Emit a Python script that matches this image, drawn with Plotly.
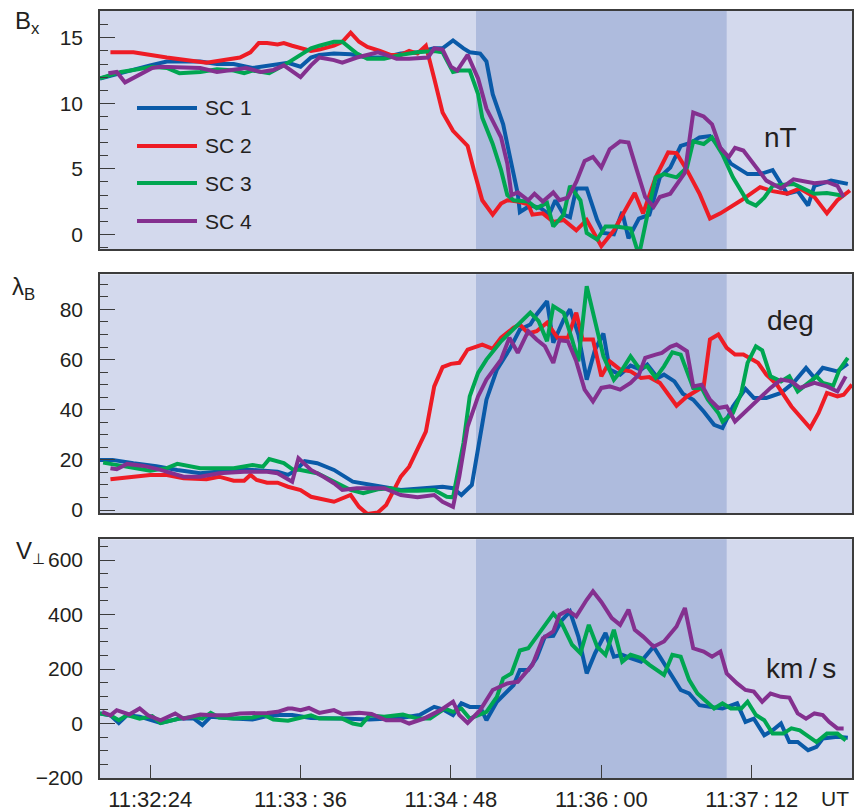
import plotly.graph_objects as go

# time axis: seconds after 11:32:00 UT
tick_secs = [24, 96, 168, 240, 312]
tick_text = ["11:32:24", "11:33\u2009:\u200936", "11:34\u2009:\u200948", "11:36\u2009:\u200900", "11:37\u2009:\u200912"]
series_names = ["SC 1", "SC 2", "SC 3", "SC 4"]
series_colors = ["#0a5aa8", "#ee1c25", "#00a651", "#84308f"]

# ---------------- Bx (nT) ----------------
bx1_t = [0, 16, 24, 32, 48, 56, 64, 73, 83, 90, 96, 101, 105, 112, 120, 128, 136, 144, 152, 160, 164, 169, 174, 177, 182, 185, 188, 193, 196, 200, 201, 206, 211, 215, 218, 222, 225, 228, 233, 238, 241, 246, 250, 253, 258, 263, 268, 273, 278, 283, 287, 292, 297, 302, 310, 316, 322, 329, 334, 339, 342, 350, 358]
bx1_v = [11.9, 12.6, 12.9, 13.2, 13.2, 13.0, 13.0, 12.7, 12.9, 13.1, 12.8, 13.5, 13.7, 13.8, 13.75, 13.5, 13.5, 13.8, 13.9, 14.2, 14.2, 14.8, 14.2, 13.9, 13.8, 13.2, 10.7, 8.4, 6.1, 3.1, 1.7, 2.2, 2.0, 1.5, 2.6, 1.5, 1.3, 3.5, 3.5, 1.1, 0.1, 0.0, 1.7, -0.3, 1.2, 1.5, 4.35, 5.1, 6.75, 7.0, 7.4, 7.5, 6.6, 5.4, 4.6, 4.6, 4.9, 3.1, 3.3, 2.2, 3.7, 4.1, 3.85]
bx2_t = [5, 16, 32, 48, 51, 67, 72, 76, 80, 85, 88, 92, 96, 101, 105, 112, 116, 120, 124, 128, 134, 139, 144, 148, 152, 156, 160, 164, 169, 176, 179, 183, 188, 192, 195, 200, 205, 207, 212, 217, 222, 228, 233, 240, 246, 256, 260, 266, 272, 276, 281, 287, 292, 297, 307, 316, 322, 329, 335, 342, 348, 353, 359]
bx2_v = [13.9, 13.9, 13.5, 13.2, 13.1, 13.5, 13.9, 14.6, 14.6, 14.5, 14.6, 14.4, 14.2, 14.0, 14.1, 14.4, 14.7, 15.4, 14.7, 14.3, 14.0, 13.7, 13.7, 14.0, 13.8, 14.4, 11.9, 9.3, 7.9, 6.75, 4.9, 2.6, 1.5, 2.35, 2.6, 2.5, 2.3, 1.5, 1.6, 0.95, 1.1, 0.3, 1.1, -0.9, 0.3, 3.15, 1.6, 4.35, 6.25, 6.2, 4.9, 3.1, 1.2, 1.6, 2.6, 3.6, 3.3, 3.1, 3.5, 2.85, 1.6, 2.6, 3.35]
bx3_t = [0, 10, 16, 25, 32, 38, 48, 56, 64, 69, 73, 81, 88, 92, 96, 101, 105, 112, 116, 123, 128, 136, 144, 152, 160, 164, 169, 172, 177, 181, 183, 188, 192, 195, 198, 205, 209, 214, 217, 222, 225, 230, 233, 238, 242, 247, 254, 258, 263, 266, 270, 276, 281, 284, 289, 293, 298, 303, 310, 314, 318, 322, 332, 342, 348, 356]
bx3_v = [11.9, 12.4, 12.55, 12.8, 12.7, 12.3, 12.4, 12.6, 12.5, 12.3, 12.5, 12.3, 12.9, 13.3, 13.7, 14.2, 14.4, 14.7, 14.7, 13.8, 13.4, 13.4, 13.7, 13.9, 14.0, 13.9, 12.4, 12.5, 12.5, 10.7, 8.9, 6.9, 4.9, 3.0, 2.6, 2.5, 2.0, 2.4, 0.6, 1.5, 3.7, 2.6, 0.1, -0.4, 0.6, 0.6, 0.45, -1.6, 2.2, 4.35, 4.6, 4.35, 5.1, 7.1, 6.9, 7.4, 6.1, 4.35, 2.5, 2.2, 2.8, 3.7, 3.85, 3.1, 3.15, 2.95]
bx4_t = [4, 8, 12, 18, 25, 29, 40, 48, 56, 64, 70, 77, 83, 88, 96, 101, 105, 112, 116, 123, 128, 133, 137, 142, 148, 157, 160, 164, 168, 171, 176, 181, 185, 192, 195, 197, 200, 205, 208, 212, 217, 220, 224, 228, 232, 236, 240, 244, 249, 253, 257, 261, 265, 268, 273, 280, 284, 289, 293, 297, 301, 304, 308, 313, 319, 326, 332, 342, 348, 353, 356]
bx4_v = [12.3, 12.4, 11.6, 12.1, 12.7, 12.8, 12.75, 12.7, 12.4, 12.55, 12.7, 12.4, 12.55, 12.9, 12.0, 12.9, 13.5, 13.3, 13.1, 13.5, 13.7, 13.9, 13.7, 13.4, 13.4, 13.5, 14.2, 14.1, 12.8, 12.5, 13.7, 11.9, 9.6, 7.4, 5.4, 3.0, 3.2, 2.6, 3.1, 2.5, 3.2, 2.6, 2.8, 4.0, 5.6, 5.9, 5.1, 6.5, 7.1, 7.0, 4.9, 2.85, 2.1, 2.85, 3.1, 4.7, 9.3, 9.0, 8.4, 6.6, 5.9, 6.6, 6.4, 5.4, 4.1, 3.5, 4.2, 3.9, 4.0, 3.7, 2.85]

# ---------------- lambda_B (deg) ----------------
lb1_t = [0, 6, 16, 27, 37, 48, 56, 64, 73, 80, 85, 90, 94, 98, 104, 112, 121, 133, 144, 155, 164, 169, 173, 178, 182, 185, 190, 196, 201, 206, 209, 214, 217, 222, 225, 229, 233, 237, 241, 244, 249, 254, 259, 262, 267, 270, 275, 279, 284, 289, 294, 298, 303, 309, 313, 319, 326, 332, 338, 342, 346, 353, 358]
lb1_v = [20, 20, 18.7, 17.5, 16, 14.7, 15.3, 16, 16, 15.7, 15.3, 14, 16, 19.5, 18.7, 16, 11.3, 9.6, 8, 8.7, 9.3, 8.7, 6, 10, 29.3, 44, 56, 64, 72, 74, 78, 83.3, 66.7, 76, 80, 70, 52, 64, 70.4, 56, 54, 57.6, 56, 58, 52.7, 54, 51.3, 46.4, 44, 39.3, 34, 32.7, 41.3, 48.3, 44.7, 44.7, 46.7, 50.7, 56.7, 52.7, 56.7, 55.3, 58.4]
lb2_t = [5, 16, 24, 32, 40, 51, 57, 64, 69, 72, 75, 80, 85, 90, 96, 101, 107, 112, 120, 124, 128, 133, 137, 144, 148, 156, 160, 164, 168, 172, 176, 183, 188, 192, 198, 201, 205, 209, 214, 219, 224, 228, 231, 236, 240, 244, 249, 254, 259, 263, 268, 273, 276, 281, 286, 289, 292, 296, 300, 304, 308, 315, 319, 324, 331, 335, 340, 344, 348, 353, 356, 360]
lb2_v = [12.3, 13.3, 14, 14, 12.7, 12.3, 13.3, 11.7, 11.7, 14, 12, 10.9, 10.9, 9.3, 8, 5.3, 4.3, 3.3, 6, 1.3, -1.6, -1.0, 2, 13.3, 17.3, 31.3, 49.3, 57, 58.3, 58.7, 64, 66, 64.3, 68.7, 72.7, 74, 70.4, 71.3, 74.7, 68.7, 68.7, 78.7, 68, 68, 53.3, 59.3, 56, 55.3, 52.7, 53, 50.7, 44.7, 41.6, 45.3, 48, 49.3, 68, 70, 64.7, 62, 62, 58.7, 54, 50, 41.3, 37.3, 32.7, 38.7, 46.7, 45.3, 46, 50]
lb3_t = [1.5, 8, 16, 24, 32, 37, 48, 64, 73, 78, 81, 88, 92, 96, 104, 112, 120, 126, 133, 139, 144, 152, 160, 166, 169, 174, 177, 181, 185, 192, 198, 206, 210, 214, 217, 222, 226, 229, 233, 238, 241, 246, 250, 254, 258, 262, 266, 270, 274, 278, 282, 284, 288, 291, 296, 298, 303, 307, 310, 314, 317, 321, 326, 330, 334, 339, 343, 346, 351, 354, 358]
lb3_v = [18.9, 18, 16.7, 15.7, 16.7, 18.4, 16.7, 16.7, 18, 17.3, 20.3, 18.7, 16.3, 16, 14.7, 11.3, 8, 6.7, 8.3, 8.7, 7.7, 7.7, 8, 5.3, 5.1, 26.7, 45.3, 54.7, 60, 67.3, 72, 78.7, 75.3, 67.3, 81.3, 78.7, 68, 59.3, 89.3, 72, 61.3, 52, 56, 61.3, 56.7, 57.3, 52.7, 57.3, 62.9, 62, 53.3, 48.7, 48.7, 44, 38.7, 35.3, 38.7, 46.7, 58.7, 65.3, 63.7, 53.3, 51.3, 53.3, 47.3, 50.7, 53.3, 50.7, 49.6, 56, 60.7]
lb4_t = [5, 8, 13, 21, 29, 40, 48, 57, 69, 80, 85, 92, 95, 101, 107, 112, 116, 123, 136, 144, 152, 160, 164, 169, 172, 176, 181, 185, 192, 196, 200, 205, 209, 213, 217, 220, 224, 228, 232, 236, 240, 244, 249, 254, 258, 261, 266, 269, 273, 276, 281, 284, 288, 292, 296, 300, 304, 308, 315, 321, 326, 331, 335, 342, 348, 353, 357]
lb4_v = [16.7, 16.3, 18.4, 17.6, 16, 13.3, 13.3, 14.7, 15.3, 15.3, 14.7, 11.3, 20.7, 16, 13.3, 10.7, 8, 8.7, 8.7, 6, 5.1, 6, 3.3, 1.3, 13.3, 33.3, 45.3, 52, 60, 68.7, 62.7, 71.3, 68, 65.3, 58.7, 67.7, 67.3, 59.3, 48, 43.3, 48.7, 49.3, 48, 50.7, 54, 60.7, 62, 62.7, 65.1, 66, 63.3, 49.3, 50, 44, 40.7, 41.3, 35.3, 38.4, 44, 48.7, 52, 51.3, 48.7, 50.7, 49.3, 47.3, 53.3]

# ---------------- V_perp (km/s) ----------------
vp1_t = [0, 5, 9, 13, 19, 25, 29, 38, 45, 49, 53, 64, 73, 80, 86, 92, 101, 115, 129, 144, 153, 160, 164, 169, 173, 177, 182, 185, 190, 198, 201, 205, 209, 213, 217, 221, 225, 229, 233, 237, 242, 246, 250, 254, 259, 265, 272, 278, 282, 287, 292, 298, 305, 309, 313, 318, 322, 326, 330, 334, 339, 343, 346, 353, 358]
vp1_v = [37, 30, 2, 31, 25, 12, 2, 18, 18, -6, 25, 18, 15, 27, 31, 31, 20, 18, 15, 20, 31, 61, 52, 31, 74, 61, 61, 12, 80, 141, 196, 196, 240, 319, 322, 378, 411, 319, 184, 258, 332, 245, 252, 240, 227, 282, 196, 123, 110, 67, 61, 55, 74, 6, 18, -43, -25, 0, -68, -68, -98, -86, -55, -49, -52]
vp3_t = [0, 5, 9, 13, 19, 25, 29, 38, 45, 49, 53, 57, 64, 73, 78, 83, 90, 96, 101, 105, 116, 121, 125, 129, 136, 145, 152, 158, 165, 169, 173, 177, 185, 190, 193, 197, 201, 205, 209, 213, 217, 221, 226, 230, 234, 238, 242, 246, 250, 254, 259, 263, 270, 274, 278, 282, 286, 294, 298, 302, 307, 310, 314, 318, 322, 327, 331, 335, 343, 348, 353, 357]
vp3_v = [37, 30, 12, 31, 18, 27, 2, 18, 25, 18, 39, 22, 18, 22, 33, 15, 10, 22, 30, 18, 18, 0, -6, 30, 25, 33, 18, 18, 55, 43, 55, 18, 43, 98, 166, 184, 268, 276, 319, 362, 403, 368, 289, 258, 362, 282, 252, 344, 227, 252, 240, 215, 178, 252, 245, 160, 110, 55, 74, 55, 55, 80, 31, 12, -37, -37, -18, -25, -68, -37, -37, -62]
vp4_t = [1, 5, 8, 14, 19, 23, 29, 36, 40, 48, 54, 61, 67, 73, 80, 85, 90, 92, 96, 100, 105, 112, 116, 124, 130, 137, 144, 148, 155, 163, 169, 172, 176, 182, 188, 195, 200, 207, 212, 217, 220, 224, 228, 233, 236, 240, 245, 249, 253, 256, 260, 265, 270, 276, 280, 284, 289, 293, 297, 300, 305, 309, 313, 317, 321, 326, 330, 334, 338, 342, 346, 349, 353, 356]
vp4_v = [43, 30, 49, 33, 55, 30, 12, 37, 18, 33, 30, 30, 37, 37, 39, 43, 55, 55, 49, 57, 39, 49, 35, 39, 35, 12, 12, 0, 18, 49, 80, 31, 2, 49, 123, 147, 153, 215, 313, 338, 399, 415, 393, 454, 485, 446, 387, 362, 418, 344, 319, 282, 301, 356, 424, 276, 264, 245, 264, 184, 147, 123, 117, 80, 110, 98, 95, 37, 18, 37, 31, 6, -18, -18]

bx_series = [(bx1_t, bx1_v), (bx2_t, bx2_v), (bx3_t, bx3_v), (bx4_t, bx4_v)]
lb_series = [(lb1_t, lb1_v), (lb2_t, lb2_v), (lb3_t, lb3_v), (lb4_t, lb4_v)]
vp_series = [(vp1_t, vp1_v), None, (vp3_t, vp3_v), (vp4_t, vp4_v)]

# interval of interest: 11:35:00 - 11:37:00
shade_start, shade_end = 180, 300

LIGHT_BG = "#d3d9ed"
DARK_BG = "#aebbdd"
TXT = "#231f20"
FONT = "Liberation Sans, Arial, sans-serif"
LW = 4

fig = go.Figure()

panels = [("x", "y", bx_series), ("x2", "y2", lb_series), ("x3", "y3", vp_series)]
for xa, ya, ser in panels:
    for i, s in enumerate(ser):
        if s is None:
            continue
        fig.add_trace(go.Scatter(x=s[0], y=s[1], mode="lines", xaxis=xa, yaxis=ya,
                                 line=dict(color=series_colors[i], width=LW),
                                 showlegend=False, name=series_names[i]))

common_x = dict(range=[0, 360], showgrid=False, zeroline=False, showline=True,
                linecolor="#3c3c3c", linewidth=1.5, mirror=True, automargin=False)
fig.update_layout(
    template="none",
    width=866, height=812,
    margin=dict(l=100, r=14, t=11, b=34, autoexpand=False),
    paper_bgcolor="white", plot_bgcolor=LIGHT_BG,
    font=dict(family=FONT, size=21, color=TXT),
    xaxis=dict(common_x, anchor="y", showticklabels=False, ticks=""),
    xaxis2=dict(common_x, anchor="y2", showticklabels=False, ticks=""),
    xaxis3=dict(common_x, anchor="y3", tickmode="array", tickvals=tick_secs, ticktext=tick_text,
                ticks="inside", ticklen=13, tickwidth=1.3, tickcolor="#3c3c3c",
                ticklabelstandoff=1, tickfont=dict(size=22, color=TXT)),
)

common_y = dict(showgrid=False, zeroline=False, showline=True, linecolor="#3c3c3c",
                linewidth=1.5, mirror=True, ticks="inside", ticklen=15, tickwidth=1.3,
                tickcolor="#3c3c3c", ticklabelstandoff=11, tickfont=dict(size=21, color=TXT),
                automargin=False)
fig.update_layout(
    yaxis=dict(common_y, domain=[0.6897, 1.0], range=[-1.12, 17.05], tickvals=[0, 5, 10, 15],
               minor=dict(dtick=1, ticklen=8, ticks="inside", tickcolor="#3c3c3c", tickwidth=1.2)),
    yaxis2=dict(common_y, domain=[0.3451, 0.6567], range=[-1.3, 94.0], tickvals=[0, 20, 40, 60, 80],
                minor=dict(dtick=5, ticklen=8, ticks="inside", tickcolor="#3c3c3c", tickwidth=1.2)),
    yaxis3=dict(common_y, domain=[0.0, 0.3112], range=[-200, 676], tickvals=[-200, 0, 200, 400, 600],
                ticktext=["\u2212200", "0", "200", "400", "600"],
                minor=dict(dtick=50, ticklen=8, ticks="inside", tickcolor="#3c3c3c", tickwidth=1.2)),
)

# shaded interval
for xa, ya in [("x", "y"), ("x2", "y2"), ("x3", "y3")]:
    fig.add_shape(type="rect", xref=xa, yref=ya + " domain", x0=shade_start, x1=shade_end,
                  y0=0, y1=1, fillcolor=DARK_BG, line_width=0, layer="below")

# legend (manual)
def px_x(px):
    return (px - 100) / 752.0

def px_y(py):
    return (778 - py) / 767.0

legend_y = [108, 146, 183, 221]
for i, name in enumerate(series_names):
    fig.add_shape(type="line", xref="paper", yref="paper", x0=px_x(137), x1=px_x(197),
                  y0=px_y(legend_y[i]), y1=px_y(legend_y[i]),
                  line=dict(color=series_colors[i], width=LW))
    fig.add_annotation(xref="paper", yref="paper", x=px_x(203), y=px_y(legend_y[i]),
                       text=name, showarrow=False, xanchor="left", yanchor="middle",
                       font=dict(size=21, color=TXT, family=FONT))

# panel labels and units
labels = [("B<sub>x</sub>", 13, 22, 24), ("\u03bb<sub>B</sub>", 10, 288, 24),
          ("V<sub><span style='font-size:15px'>\u22a5</span></sub>", 14, 552, 24)]
for txt, lx, ly, fs in labels:
    fig.add_annotation(xref="paper", yref="paper", x=px_x(lx), y=px_y(ly), text=txt,
                       showarrow=False, xanchor="left", yanchor="middle",
                       font=dict(size=fs, color=TXT, family=FONT))

units = [("nT", 780, 137), ("deg", 790, 320), ("km\u2009/\u2009s", 801, 668)]
for txt, ux, uy in units:
    fig.add_annotation(xref="paper", yref="paper", x=px_x(ux), y=px_y(uy), text=txt,
                       showarrow=False, xanchor="center", yanchor="middle",
                       font=dict(size=28, color=TXT, family=FONT))

fig.add_annotation(xref="paper", yref="paper", x=px_x(851), y=px_y(798), text="UT",
                   showarrow=False, xanchor="right", yanchor="middle",
                   font=dict(size=21, color=TXT, family=FONT))

fig.write_html("out.html")
